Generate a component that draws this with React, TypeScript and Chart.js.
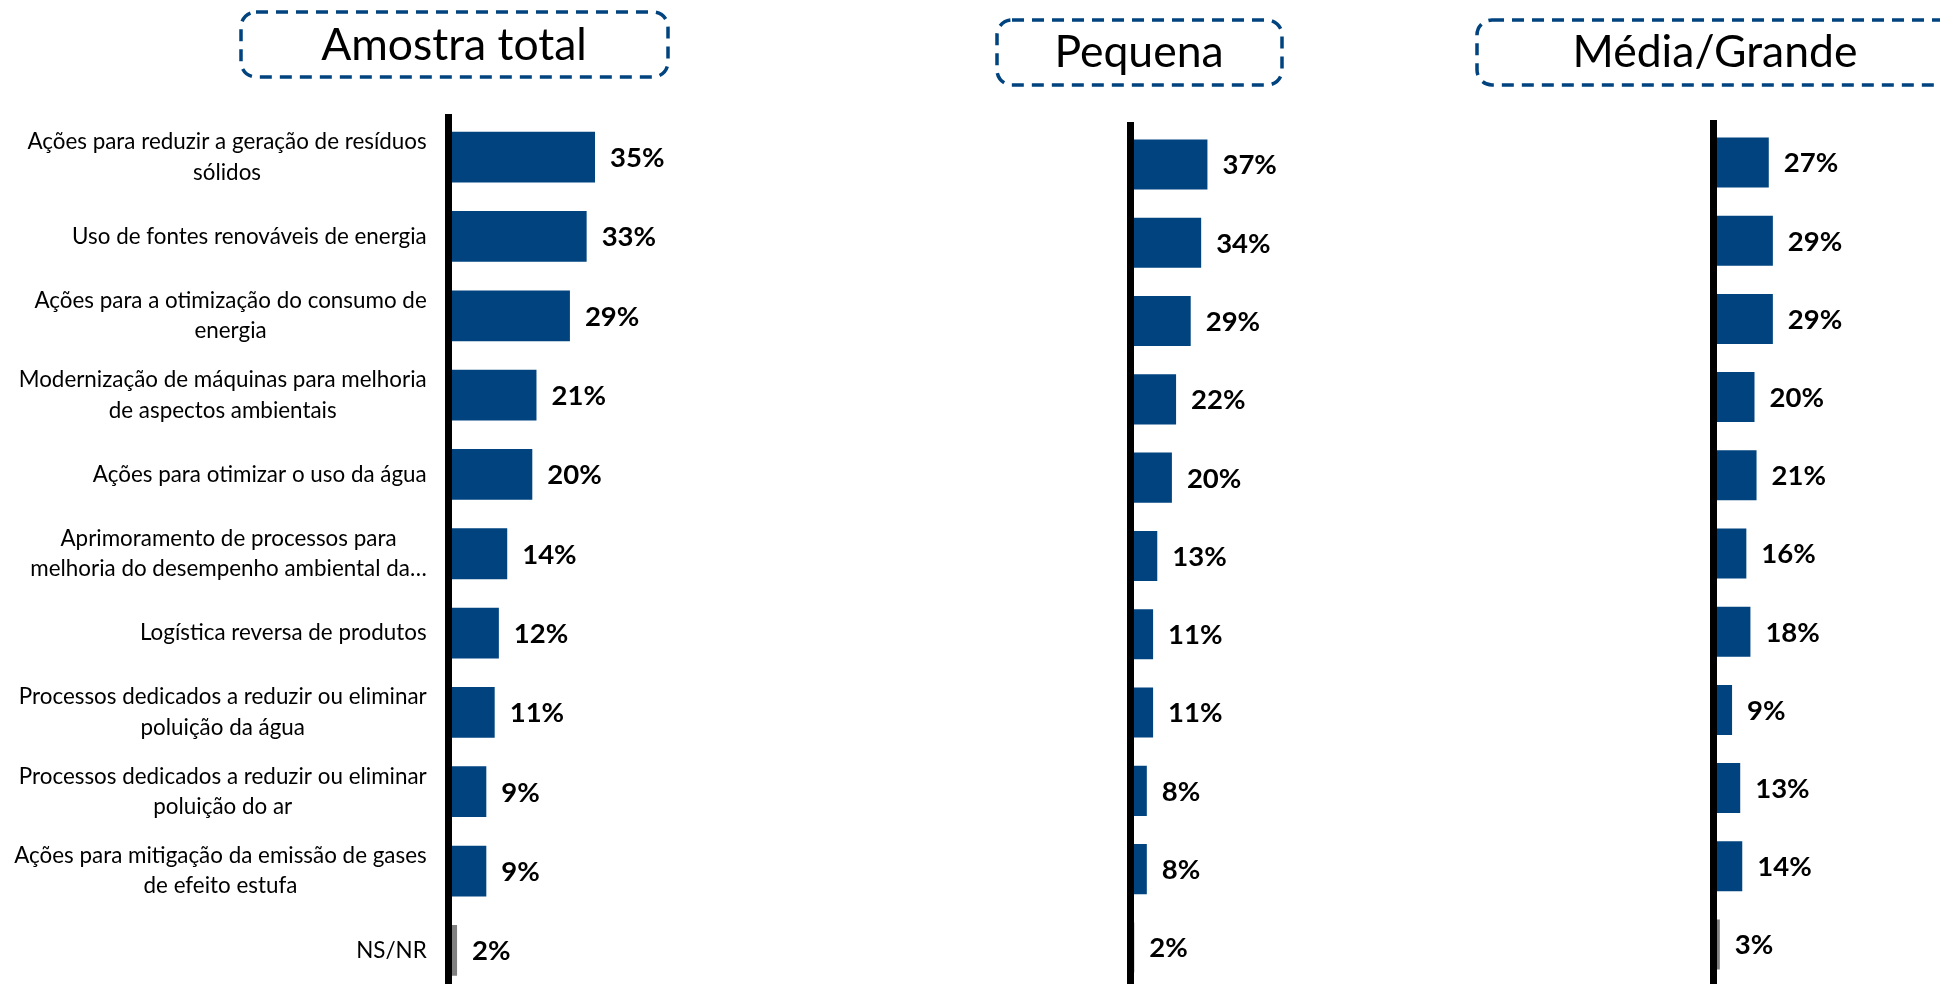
import React, { useEffect, useRef } from "react";
import { Chart, registerables } from "chart.js";

Chart.register(...registerables);

// ---------- DATA ----------
const categories: string[][] = [
  ["Ações para reduzir a geração de resíduos", "sólidos"],
  ["Uso de fontes renováveis de energia"],
  ["Ações para a otimização do consumo de", "energia"],
  ["Modernização de máquinas para melhoria", "de aspectos ambientais"],
  ["Ações para otimizar o uso da água"],
  ["Aprimoramento de processos para", "melhoria do desempenho ambiental da…"],
  ["Logística reversa de produtos"],
  ["Processos dedicados a reduzir ou eliminar", "poluição da água"],
  ["Processos dedicados a reduzir ou eliminar", "poluição do ar"],
  ["Ações para mitigação da emissão de gases", "de efeito estufa"],
  ["NS/NR"],
];
const totalValues = [35, 33, 29, 21, 20, 14, 12, 11, 9, 9, 2];
const smallValues = [37, 34, 29, 22, 20, 13, 11, 11, 8, 8, 2];
const largeValues = [27, 29, 29, 20, 21, 16, 18, 9, 13, 14, 3];
const panelTitles = ["Amostra total", "Pequena", "Média/Grande"];

// ---------- STYLE / LAYOUT ----------
const BLUE = "#00437f";
const GRAY = "#808080";
const FONT = "Lato";
const CANVAS_H = 1000;
const X_MAX = 50;

type Panel = {
  title: string;
  values: number[];
  left: number;
  width: number;
  zeroX: number;
  pxPerPct: number;
  top: number;
  bottom: number;
  box: { x: number; y: number; w: number; h: number };
  textX: number;
  textY: number;
  showLabels: boolean;
};

const panels: Panel[] = [
  {
    title: panelTitles[0], values: totalValues, left: 0, width: 900,
    zeroX: 448.7, pxPerPct: 4.18, top: 117.5, bottom: 990,
    box: { x: 241, y: 12, w: 427, h: 65 }, textX: 454, textY: 46, showLabels: true,
  },
  {
    title: panelTitles[1], values: smallValues, left: 900, width: 560,
    zeroX: 230.1, pxPerPct: 2.09, top: 125.3, bottom: 986.6,
    box: { x: 97, y: 20, w: 285, h: 65 }, textX: 239, textY: 53, showLabels: false,
  },
  {
    title: panelTitles[2], values: largeValues, left: 1460, width: 480,
    zeroX: 253.7, pxPerPct: 2.04, top: 123.4, bottom: 983.6,
    box: { x: 17, y: 20, w: 540, h: 65 }, textX: 255, textY: 53, showLabels: false,
  },
];

function PanelChart({ panel }: { panel: Panel }) {
  const ref = useRef<HTMLCanvasElement>(null);
  useEffect(() => {
    if (!ref.current) return;
    const p = panel;
    const decoPlugin = {
      id: "deco",
      beforeDraw(chart: any) {
        const ctx = chart.ctx;
        ctx.save();
        ctx.fillStyle = "#ffffff";
        ctx.fillRect(0, 0, chart.width, chart.height);
        // dashed title box
        ctx.strokeStyle = BLUE;
        ctx.lineWidth = 3.5;
        ctx.setLineDash([12, 8]);
        ctx.beginPath();
        (ctx as any).roundRect(p.box.x, p.box.y, p.box.w, p.box.h, 15);
        ctx.stroke();
        ctx.setLineDash([]);
        ctx.fillStyle = "#000";
        ctx.font = `44.5px ${FONT}`;
        ctx.textAlign = "center";
        ctx.textBaseline = "middle";
        ctx.fillText(p.title, p.textX, p.textY);
        ctx.restore();
      },
      afterDatasetsDraw(chart: any) {
        const ctx = chart.ctx;
        const meta = chart.getDatasetMeta(0);
        const yScale = chart.scales.y;
        ctx.save();
        // value labels
        ctx.fillStyle = "#000";
        ctx.font = `bold 27.5px ${FONT}`;
        ctx.textAlign = "left";
        ctx.textBaseline = "middle";
        meta.data.forEach((bar: any, i: number) => {
          const v = chart.data.datasets[0].data[i];
          ctx.fillText(`${v}%`, bar.x + 15, bar.y + 1);
        });
        // category labels
        if (p.showLabels) {
          ctx.font = `22.4px ${FONT}`;
          ctx.textAlign = "center";
          const right = chart.chartArea.left - 22;
          const lh = 30.5;
          (chart.data.labels as string[][]).forEach((lines, i) => {
            const cy = yScale.getPixelForValue(i);
            const widest = Math.max(...lines.map((l) => ctx.measureText(l).width));
            const cx = right - widest / 2;
            const y0 = cy - ((lines.length - 1) * lh) / 2;
            lines.forEach((l, j) => ctx.fillText(l, cx, y0 + j * lh));
          });
        }
        ctx.restore();
      },
    };
    const chart = new Chart(ref.current, {
      type: "bar",
      data: {
        labels: categories as any,
        datasets: [
          {
            data: p.values,
            backgroundColor: p.values.map((_, i) => (i === p.values.length - 1 ? GRAY : BLUE)),
            barPercentage: 0.8,
            categoryPercentage: 0.8,
          },
        ],
      },
      options: {
        indexAxis: "y",
        animation: false,
        responsive: false,
        maintainAspectRatio: false,
        layout: {
          padding: {
            left: p.zeroX,
            top: p.top,
            bottom: CANVAS_H - p.bottom,
            right: p.width - p.zeroX - X_MAX * p.pxPerPct,
          },
        },
        plugins: { legend: { display: false }, tooltip: { enabled: false }, title: { display: false } },
        scales: {
          x: { display: false, min: 0, max: X_MAX },
          y: {
            display: true,
            offset: true,
            grid: { display: false, drawTicks: false },
            ticks: { display: false },
            border: { display: true, color: "#000", width: 7, z: 1 },
            afterFit: (s: any) => { s.width = 0; },
          },
        },
      } as any,
      plugins: [decoPlugin],
    });
    return () => chart.destroy();
  }, [panel]);
  return (
    <canvas
      ref={ref}
      width={panel.width}
      height={CANVAS_H}
      style={{ position: "absolute", left: panel.left, top: 0, width: panel.width, height: CANVAS_H }}
    />
  );
}

export default function App() {
  return (
    <div
      style={{
        position: "fixed",
        left: 0,
        top: 0,
        width: 1940,
        height: 984,
        overflow: "hidden",
        background: "#fff",
      }}
    >
      {panels.map((p) => (
        <PanelChart key={p.title} panel={p} />
      ))}
    </div>
  );
}
